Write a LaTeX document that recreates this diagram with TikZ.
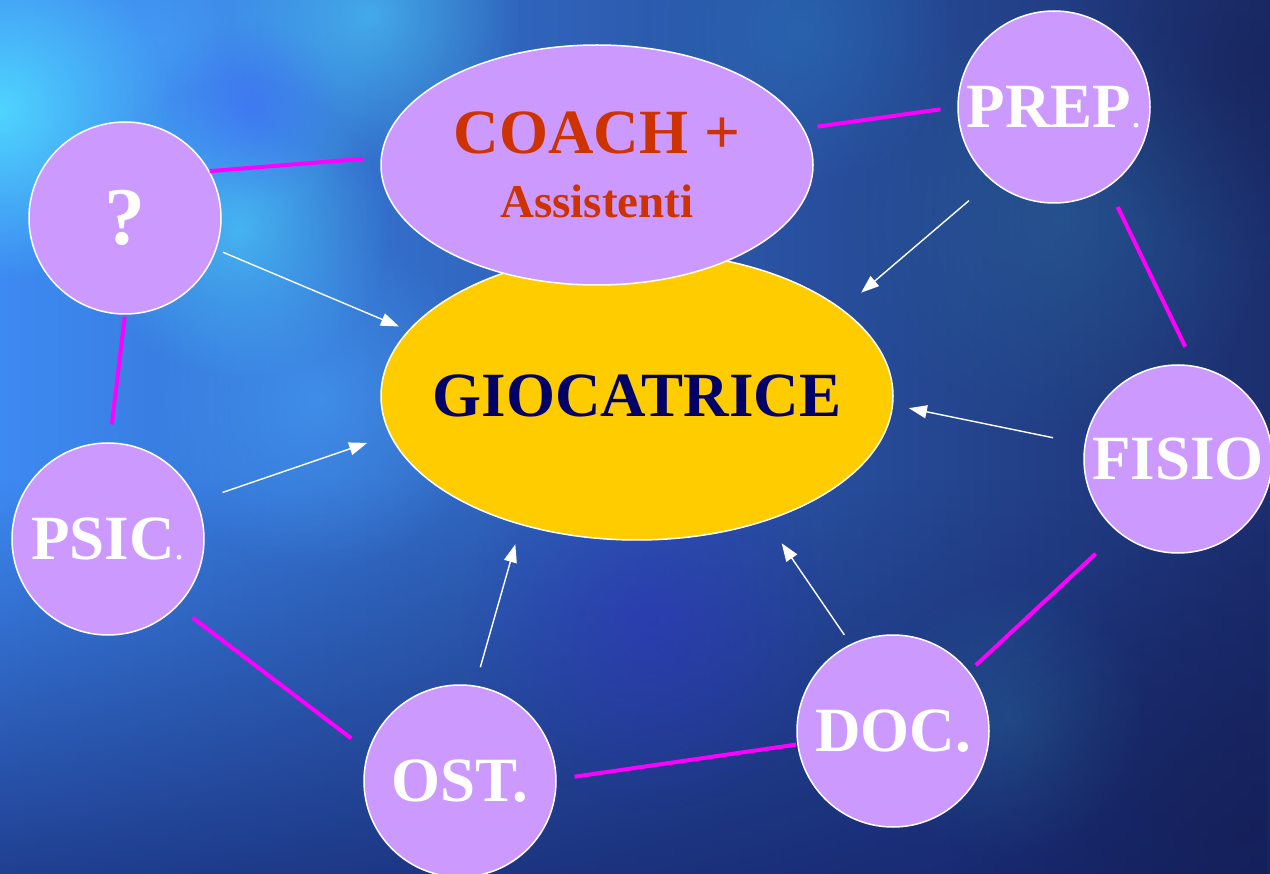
\documentclass[tikz,border=0pt]{standalone}
\usepackage{fontspec}
\setmainfont{Liberation Serif}
\usetikzlibrary{shapes.geometric,arrows.meta,fadings}
\definecolor{lav}{HTML}{CC99FF}
\definecolor{gold}{HTML}{FFCC00}
\definecolor{navy}{HTML}{000066}
\definecolor{coachred}{HTML}{CC3300}
\definecolor{mag}{HTML}{FF00FF}
\definecolor{bgA}{HTML}{3D8AF2}
\definecolor{bgB}{HTML}{1C2E6E}
\definecolor{bgLow}{HTML}{142068}
\definecolor{cyanblob}{HTML}{50D8FF}
\definecolor{skyblob}{HTML}{4AA8FF}
\definecolor{deepblob}{HTML}{4060FF}
\definecolor{tealblob}{HTML}{2A6A9A}
\definecolor{teal2}{HTML}{2A78C0}
\definecolor{purpblob}{HTML}{3030C0}
\definecolor{darkblob}{HTML}{141E50}
\tikzfading[name=softblob, inner color=transparent!0, outer color=transparent!100]
\tikzfading[name=lowdark, top color=transparent!100, bottom color=transparent!0]
\tikzset{
  role/.style={circle, draw=white, line width=1.5pt, fill=lav, minimum size=192pt,
    inner sep=0pt, text=white, font=\fontsize{63}{70}\selectfont\bfseries},
  link/.style={draw=mag, line width=4pt},
  feed/.style={draw=white, line width=1.4pt, -{Triangle[length=18pt,width=13pt]}},
  blob/.style={path fading=softblob}
}
\newcommand{\smalldot}{{\fontsize{40}{40}\selectfont\mdseries .}}
\begin{document}
\begin{tikzpicture}[x=1pt,y=-1pt]
\useasboundingbox (0,0) rectangle (1270,874);
% background
\shade[left color=bgA, right color=bgB] (0,0) rectangle (1270,874);
\begin{scope}
\clip (0,0) rectangle (1270,874);
\fill[bgLow, path fading=lowdark, opacity=0.7] (0,480) rectangle (1270,874);
\fill[skyblob, blob, opacity=0.6] (160,40) circle (230);
\fill[cyanblob, blob, opacity=0.95] (0,110) circle (170);
\fill[cyanblob, blob, opacity=0.6] (240,230) circle (150);
\fill[cyanblob, blob, opacity=0.55] (370,15) circle (150);
\fill[skyblob, blob, opacity=0.5] (320,400) circle (170);
\fill[deepblob, blob, opacity=0.45] (250,110) circle (90);
\fill[teal2, blob, opacity=0.45] (800,30) circle (160);
\fill[tealblob, blob, opacity=0.45] (1060,220) circle (220);
\fill[purpblob, blob, opacity=0.5] (650,620) circle (190);
\fill[tealblob, blob, opacity=0.45] (1010,720) circle (140);
\fill[darkblob, blob, opacity=0.6] (1250,830) circle (300);
\fill[darkblob, blob, opacity=0.45] (1260,60) circle (200);
\end{scope}
% central ellipses
\node[ellipse, draw=white, line width=1.5pt, fill=gold, minimum width=512pt,
  minimum height=288pt, inner ysep=0pt, inner xsep=-40pt, text=navy,
  font=\fontsize{63}{70}\selectfont\bfseries] (gioc) at (637,396) {GIOCATRICE};
\node[ellipse, draw=white, line width=1.5pt, fill=lav, minimum width=432pt,
  minimum height=240pt, inner sep=0pt, text=coachred, align=center,
  font=\bfseries\fontsize{47}{61}\selectfont] (coach) at (597,165)
  {{\fontsize{63}{61}\selectfont COACH +}\\[3pt]Assistenti};
% role circles
\node[role, font=\fontsize{82}{90}\selectfont\bfseries] (q) at (125,218) {?};
\node[role] (prep) at (1054,107) {PREP\smalldot};
\node[role, minimum size=188pt] (fisio) at (1178,459) {FISIO};
\node[role] (doc) at (893,731) {DOC.};
\node[role] (ost) at (460,781) {OST.};
\node[role] (psic) at (108,539) {PSIC\smalldot};
% magenta ring links
\draw[link, shorten >=18pt] (q.29.5) -- (coach.178);
\draw[link, shorten <=14pt, shorten >=17pt] (coach.10.6) -- (prep.180);
\draw[link, shorten <=22pt, shorten >=21pt] (prep.-56.4) -- (fisio.80.4);
\draw[link, shorten <=31pt, shorten >=9pt] (fisio.231.6) -- (doc.38.4);
\draw[link, shorten <=1pt, shorten >=18pt] (doc.188.9) -- (ost.1.5);
\draw[link, shorten <=21pt, shorten >=19pt] (ost.162.6) -- (psic.-44.6);
\draw[link, shorten <=18pt, shorten >=2pt] (psic.89.5) -- (q.-90);
% white arrows toward the player
\draw[feed, shorten <=7pt, shorten >=10pt] (q.-19.3) -- (gioc.164.9);
\draw[feed, shorten <=30pt, shorten >=25pt] (prep.230.1) -- (gioc.23.75);
\draw[feed, shorten <=32pt, shorten >=16pt] (fisio.171.7) -- (gioc.-2.7);
\draw[feed, shorten <=11pt, shorten >=27pt] (doc.116.6) -- (gioc.-44.8);
\draw[feed, shorten <=19pt, shorten >=20pt] (ost.81.5) -- (gioc.228.6);
\draw[feed, shorten <=27pt, shorten >=24pt] (psic.23) -- (gioc.189.8);
\end{tikzpicture}
\end{document}
